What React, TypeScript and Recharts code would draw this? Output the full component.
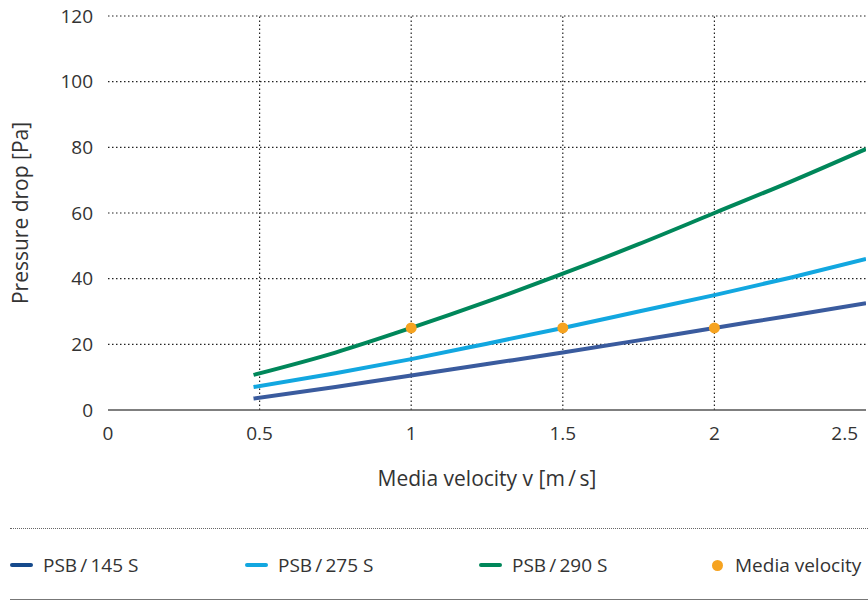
import { ComposedChart, Line, Scatter, XAxis, YAxis, ReferenceLine } from 'recharts'

const xTicks = [0, 0.5, 1, 1.5, 2, 2.5]
const yTicks = [0, 20, 40, 60, 80, 100, 120]
const gridX = [0.5, 1, 1.5, 2]
const gridY = [20, 40, 60, 80, 100, 120]

const velocity = [0.48, 0.75, 1, 1.25, 1.5, 1.75, 2, 2.25, 2.5]
const psb145 = [3.5, 7, 10.5, 14, 17.5, 21.2, 25, 28.7, 32.5]
const psb275 = [7, 11.2, 15.5, 20.2, 25, 30, 35, 40.3, 46]
const psb290 = [10.7, 17.5, 25, 33, 41.5, 50.5, 60, 69.5, 79.5]

const mediaX = [1, 1.5, 2]
const mediaY = [25, 25, 25]

const series = [
  { name: 'PSB\u2009/\u2009145 S', values: psb145, color: '#3a5b9e', swatch: '#164a8c' },
  { name: 'PSB\u2009/\u2009275 S', values: psb275, color: '#12a7e0', swatch: '#12a7e0' },
  { name: 'PSB\u2009/\u2009290 S', values: psb290, color: '#00875a', swatch: '#00875a' },
]

const dotColor = '#f6a320'
const font = '"Open Sans", "Noto Sans", sans-serif'
const textColor = '#333'

function XTick({ x, y, payload }: any) {
  const last = payload.value === xTicks[xTicks.length - 1]
  return (
    <text x={x} y={y} dy="0.71em" textAnchor={last ? 'end' : 'middle'} fill={textColor} fontSize={19} fontFamily={font}>
      {payload.value}
    </text>
  )
}

function YLabel({ viewBox }: any) {
  const cy = viewBox.y + viewBox.height / 2
  return (
    <text x={20} y={cy} transform={`rotate(-90, 20, ${cy})`} textAnchor="middle" dominantBaseline="central" fill={textColor} fontSize={21} fontFamily={font}>
      Pressure drop [Pa]
    </text>
  )
}

export default function App() {
  const media = mediaX.map((x, i) => ({ x, y: mediaY[i] }))
  return (
    <div style={{ position: 'absolute', left: 0, top: 0, width: 868, height: 601, background: '#fff', fontFamily: font }}>
      <ComposedChart width={868} height={500} margin={{ top: 16, right: 2, left: 0, bottom: 0 }}>
        <XAxis
          type="number"
          dataKey="x"
          domain={[0, 2.5]}
          ticks={xTicks}
          allowDataOverflow
          tick={<XTick />}
          tickLine={false}
          tickSize={0}
          tickMargin={17}
          axisLine={{ stroke: '#555', strokeWidth: 1.5 }}
          height={90}
          label={{ value: 'Media velocity v [m\u2009/\u2009s]', position: 'insideBottom', offset: 14, fill: textColor, fontSize: 21, fontFamily: font }}
        />
        <YAxis
          type="number"
          domain={[0, 120]}
          ticks={yTicks}
          tick={{ fill: textColor, fontSize: 19, fontFamily: font }}
          tickLine={false}
          axisLine={false}
          tickSize={0}
          tickMargin={15}
          width={108}
          label={<YLabel />}
        />
        {gridX.map(v => (
          <ReferenceLine key={'gx' + v} x={v} stroke="#222" strokeDasharray="1.5 2.5" strokeWidth={1.2} />
        ))}
        {gridY.map(v => (
          <ReferenceLine key={'gy' + v} y={v} stroke="#222" strokeDasharray="1.5 2.5" strokeWidth={1.2} />
        ))}
        {series.map(s => (
          <Line
            key={s.name}
            data={velocity.map((x, i) => ({ x, y: s.values[i] }))}
            dataKey="y"
            type="monotone"
            stroke={s.color}
            strokeWidth={4}
            dot={false}
            isAnimationActive={false}
          />
        ))}
        <Scatter data={media} dataKey="y" fill={dotColor} isAnimationActive={false}
          shape={(p: any) => <circle cx={p.cx} cy={p.cy} r={5.5} fill={dotColor} />} />
      </ComposedChart>
      <div style={{ position: 'absolute', left: 10, right: 0, top: 528, borderTop: '1px dotted #666' }} />
      <div style={{ position: 'absolute', left: 10, right: 0, top: 599, borderTop: '1.5px solid #777' }} />
      <div style={{ position: 'absolute', top: 552, left: 0, width: 868, height: 26, fontSize: 19, color: textColor }}>
        {series.map((s, i) => (
          <div key={s.name} style={{ position: 'absolute', left: [10, 245, 479][i], top: 0, display: 'flex', alignItems: 'center', height: 26, whiteSpace: 'nowrap' }}>
            <span style={{ display: 'inline-block', width: 23, height: 4, borderRadius: 2, background: s.swatch, marginRight: 10 }} />
            <span>{s.name}</span>
          </div>
        ))}
        <div style={{ position: 'absolute', left: 712, top: 0, display: 'flex', alignItems: 'center', height: 26, whiteSpace: 'nowrap' }}>
          <span style={{ display: 'inline-block', width: 11, height: 11, borderRadius: '50%', background: dotColor, marginRight: 12 }} />
          <span>Media velocity</span>
        </div>
      </div>
    </div>
  )
}
